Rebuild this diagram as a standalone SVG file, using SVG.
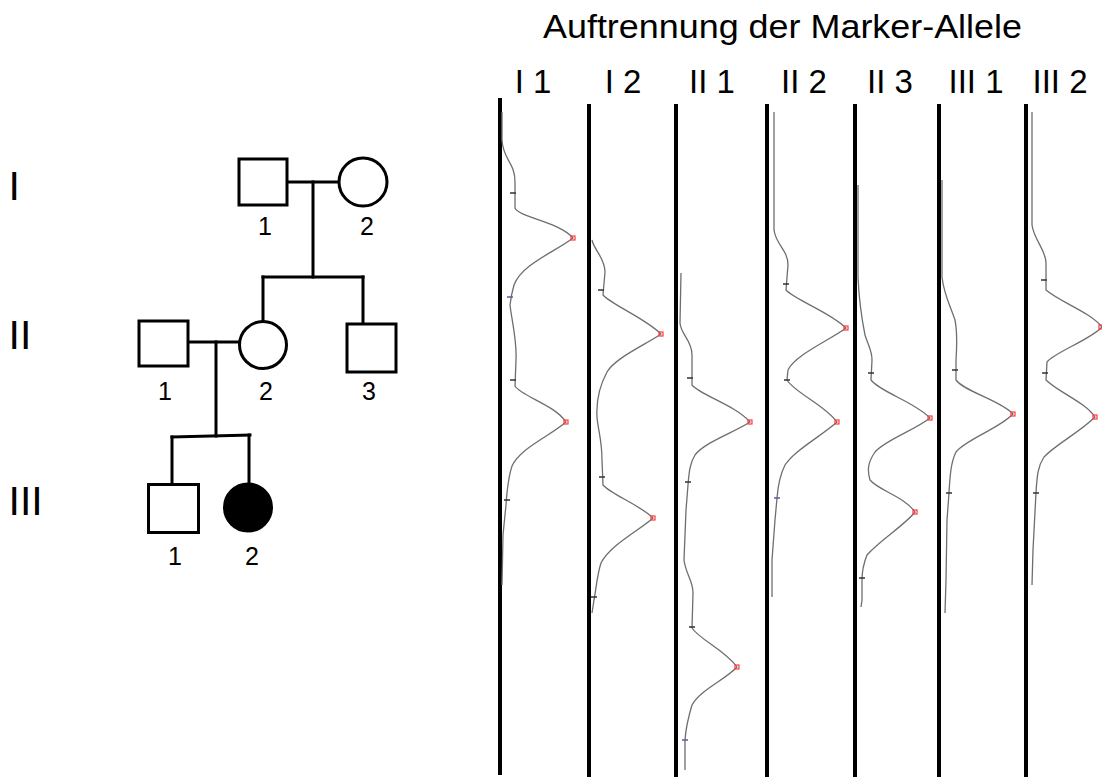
<svg xmlns="http://www.w3.org/2000/svg" width="1102" height="778" viewBox="0 0 1102 778">
  <style>
    .txt { font-family: "Liberation Sans", Arial, sans-serif; fill: #000; }
    .title { font-size: 34px; }
    .lane-label { font-size: 33px; text-anchor: middle; }
    .gen { font-size: 41px; }
    .num { font-size: 25px; text-anchor: middle; }
    .sym { fill: #fff; stroke: #000; stroke-width: 3; }
    .affected { fill: #000; stroke: #000; stroke-width: 3; }
    .link { fill: none; stroke: #000; stroke-width: 3; stroke-linecap: square; }
    .lane { stroke: #000; stroke-width: 4; }
    .trace { fill: none; stroke: #6e6e6e; stroke-width: 1.3; stroke-linejoin: round; }
    .tick { stroke: #333; stroke-width: 1.3; }
    .tick-blue { stroke: #5a5aa8; stroke-width: 1.3; }
    .peak { fill: none; stroke: #ff3b3b; stroke-width: 1.2; }
  </style>

  <!-- heading and lane captions -->
  <text class="txt title" x="543" y="38" textLength="479" lengthAdjust="spacingAndGlyphs">Auftrennung der Marker-Allele</text>
  <g id="lane-labels">
    <text class="txt lane-label" x="533" y="93">I 1</text>
    <text class="txt lane-label" x="623" y="93">I 2</text>
    <text class="txt lane-label" x="712" y="93">II 1</text>
    <text class="txt lane-label" x="804" y="93">II 2</text>
    <text class="txt lane-label" x="890" y="93">II 3</text>
    <text class="txt lane-label" x="976" y="93">III 1</text>
    <text class="txt lane-label" x="1060" y="93">III 2</text>
  </g>

  <!-- generation numerals -->
  <g id="generations">
    <text class="txt gen" x="8.5" y="200">I</text>
    <text class="txt gen" x="8.5" y="349">II</text>
    <text class="txt gen" x="8.5" y="515">III</text>
  </g>

  <!-- pedigree connectors -->
  <g id="connectors">
    <path class="link" d="M287,182 H339"/>
    <path class="link" d="M313,182 V277"/>
    <path class="link" d="M263,277 H363"/>
    <path class="link" d="M263,277 V321"/>
    <path class="link" d="M363,277 V324"/>
    <path class="link" d="M188,342 H239"/>
    <path class="link" d="M216,342 V436"/>
    <path class="link" d="M172,437 L250,435"/>
    <path class="link" d="M172,437 V484"/>
    <path class="link" d="M249,435 V484"/>
  </g>

  <!-- pedigree individuals -->
  <g id="I-1">
    <rect class="sym" x="239" y="159" width="48" height="46"/>
    <text class="txt num" x="265" y="235">1</text>
  </g>
  <g id="I-2">
    <circle class="sym" cx="363" cy="182" r="24"/>
    <text class="txt num" x="367" y="235">2</text>
  </g>
  <g id="II-1">
    <rect class="sym" x="139" y="321" width="49" height="45"/>
    <text class="txt num" x="165" y="400">1</text>
  </g>
  <g id="II-2">
    <circle class="sym" cx="263" cy="345" r="23.5"/>
    <text class="txt num" x="266" y="400">2</text>
  </g>
  <g id="II-3">
    <rect class="sym" x="347" y="324" width="49" height="48"/>
    <text class="txt num" x="369" y="400">3</text>
  </g>
  <g id="III-1">
    <rect class="sym" x="148.5" y="484.5" width="50" height="48"/>
    <text class="txt num" x="175" y="565">1</text>
  </g>
  <g id="III-2">
    <circle class="affected" cx="248" cy="507.5" r="23.5"/>
    <text class="txt num" x="252" y="565">2</text>
  </g>

  <!-- electrophoresis lanes -->
  <g id="lanes">
    <line class="lane" x1="500" y1="98" x2="500" y2="775"/>
    <line class="lane" x1="589" y1="104" x2="589" y2="777"/>
    <line class="lane" x1="676" y1="104" x2="676" y2="777"/>
    <line class="lane" x1="767" y1="104" x2="767" y2="777"/>
    <line class="lane" x1="855" y1="104" x2="855" y2="777"/>
    <line class="lane" x1="939" y1="104" x2="939" y2="777"/>
    <line class="lane" x1="1026" y1="104" x2="1026" y2="777"/>
  </g>

  <!-- signal traces -->
  <g id="traces">
    <path class="trace" d="M502,112 L502,140 C503,160 515,162 515,182 L515,208 C520,218 560,222 573,238 C555,252 522,264 514,285 C512,292 511,296 510,305 C512,322 517,340 516,360 L515,386 C521,396 555,405 566,422 C550,436 520,448 512,466 C509,475 507,490 506,505 L503,535 L502,585"/>
    <path class="trace" d="M592,240 C594,250 605,258 605,272 L603,295 C612,305 645,318 661,334 C645,345 615,358 607,372 C600,385 596,400 597,417 C598,430 602,440 602,460 L603,485 C612,495 640,505 653,518 C640,530 610,545 601,563 C597,575 596,590 594,600 L592,613"/>
    <path class="trace" d="M681,273 L680,323 C681,335 692,340 692,355 L692,385 C700,395 735,405 750,422 C735,432 705,442 695,455 C690,463 689,472 688,485 L686,510 L684,560 C686,575 693,580 693,593 L692,628 C700,640 725,650 737,667 C725,680 700,690 692,705 C689,715 686,725 685,740 L685,770"/>
    <path class="trace" d="M774,112 L774,230 C776,245 788,250 788,265 L786,290 C795,300 830,312 846,328 C830,340 795,355 788,370 L787,380 C795,393 825,405 837,422 C820,437 795,450 785,465 C780,475 778,485 777,498 L775,520 L772,560 L772,597"/>
    <path class="trace" d="M858,185 L858,277 C859,300 862,320 865,335 C868,345 872,350 872,360 L871,380 C880,392 915,402 930,418 C915,430 885,440 875,452 C868,462 867,470 870,480 C878,490 905,497 915,512 C905,525 880,540 867,555 C863,565 862,570 862,580 L862,600 L861,607"/>
    <path class="trace" d="M942,180 L942,277 C944,295 950,305 955,320 C957,330 957,345 956,360 L956,380 C965,392 1000,400 1013,414 C1000,428 965,440 956,452 C951,462 950,475 949,493 L947,520 L946,580 L945,613"/>
    <path class="trace" d="M1032,112 L1032,225 C1034,240 1046,250 1046,263 L1046,290 C1060,302 1090,312 1102,327 C1090,340 1055,352 1047,362 L1046,380 C1058,392 1085,402 1095,417 C1080,432 1055,445 1044,457 C1038,466 1037,475 1036,493 L1033,550 L1032,585"/>
  </g>

  <!-- size-standard ticks -->
  <g id="ticks">
    <path class="tick" d="M510,193 h6 M510,380 h6 M504,500 h6 M598,290 h6 M599,477 h6 M591,597 h6 M687,378 h6 M685,482 h6 M689,627 h6 M783,284 h6 M784,380 h6 M868,373 h6 M859,578 h6 M952,370 h6 M946,493 h6 M1041,280 h6 M1042,373 h6 M1033,493 h6"/>
    <path class="tick-blue" d="M507,297 h6 M682,740 h6 M774,498 h6"/>
  </g>

  <!-- called allele peaks -->
  <g id="peaks">
    <rect class="peak" x="571" y="236" width="4" height="4"/>
    <rect class="peak" x="564" y="420" width="4" height="4"/>
    <rect class="peak" x="659" y="332" width="4" height="4"/>
    <rect class="peak" x="651" y="516" width="4" height="4"/>
    <rect class="peak" x="748" y="420" width="4" height="4"/>
    <rect class="peak" x="735" y="665" width="4" height="4"/>
    <rect class="peak" x="844" y="326" width="4" height="4"/>
    <rect class="peak" x="835" y="420" width="4" height="4"/>
    <rect class="peak" x="928" y="416" width="4" height="4"/>
    <rect class="peak" x="913" y="510" width="4" height="4"/>
    <rect class="peak" x="1011" y="412" width="4" height="4"/>
    <rect class="peak" x="1099" y="325" width="4" height="4"/>
    <rect class="peak" x="1093" y="415" width="4" height="4"/>
  </g>
</svg>
